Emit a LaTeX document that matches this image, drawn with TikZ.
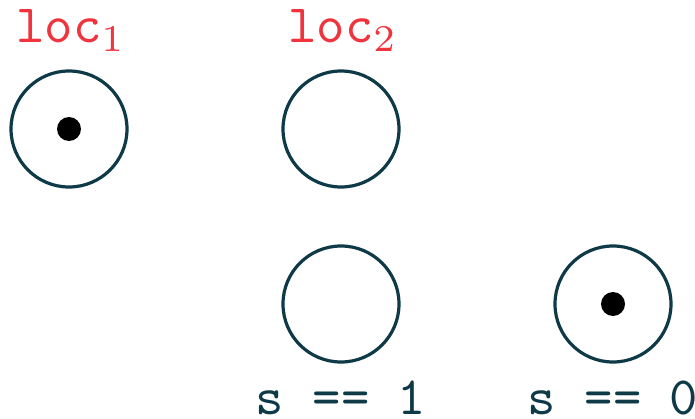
\documentclass[tikz,border=0pt]{standalone}
\usepackage{graphicx}
\definecolor{tealdark}{RGB}{14,58,72}
\definecolor{locred}{RGB}{240,52,62}
\newcommand{\bigtext}[1]{\scalebox{5.4}{#1}}
\begin{document}
\begin{tikzpicture}[x=1pt,y=1pt,
  loc/.style={circle,draw=tealdark,line width=3.2pt,minimum size=116pt,inner sep=0pt},
  token/.style={circle,fill=black,minimum size=24pt,inner sep=0pt},
  redlabel/.style={anchor=base,text=locred,inner sep=0pt},
  condlabel/.style={anchor=base,text=tealdark,inner sep=0pt}]
\useasboundingbox (0,0) rectangle (695,418);
\node[loc] (c1) at (69,289) {};
\node[loc] (c2) at (341,289) {};
\node[loc] (c3) at (341,114) {};
\node[loc] (c4) at (613,114) {};
\node[token] (t1) at (c1.center) {};
\node[token] (t4) at (c4.center) {};
\node[redlabel] (l1) at (71,375) {\bigtext{\texttt{loc}$_1$}};
\node[redlabel] (l2) at (343,375) {\bigtext{\texttt{loc}$_2$}};
\node[condlabel] (s1) at (341,4) {\bigtext{\texttt{s == 1}}};
\node[condlabel] (s0) at (613,4) {\bigtext{\texttt{s == 0}}};
\end{tikzpicture}
\end{document}
